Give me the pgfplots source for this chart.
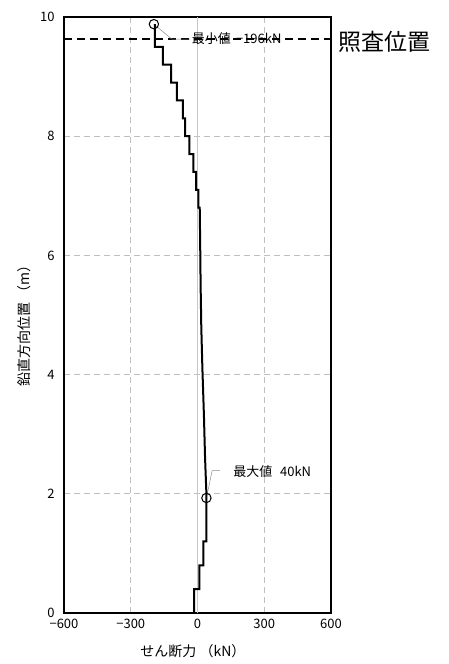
\documentclass[border=0pt]{standalone}
\usepackage{fontspec}
\setmainfont{Noto Sans CJK JP}
\usepackage{pgfplots}
\pgfplotsset{compat=1.18}
\begin{document}
\begin{tikzpicture}
\begin{axis}[
 scale only axis, width=267pt, height=596pt,
 xmin=-600,xmax=600,ymin=0,ymax=10,
 xtick={-600,-300,0,300,600}, xticklabels={−600,−300,0,300,600},
 ytick={0,2,4,6,8,10}, yticklabels={0,2,4,6,8,10},
 major tick length=0pt,
 grid=major, grid style={black!25, dash pattern=on 6pt off 4pt, line width=0.8pt},
 axis line style={line width=1.3pt},
 tick label style={font=\fontsize{13}{15}\selectfont},
 xticklabel style={yshift=-3pt},
 yticklabel style={xshift=-6pt},
 xlabel={せん断力 （kN）}, ylabel={鉛直方向位置 （m）},
 label style={font=\fontsize{14}{16}\selectfont},
 xlabel style={at={(axis description cs:0.483,-0.0638)}, anchor=center},
 ylabel style={at={(axis description cs:-0.149,0.487)}, anchor=center},
 clip=false,
]
\addplot[black!22, line width=1.2pt] coordinates {(0,0)(0,10)};
\addplot[black, line width=1.5pt, dash pattern=on 8pt off 5pt] coordinates {(-600,9.63)(600,9.63)};
\addplot[black!45, line width=0.5pt] coordinates {(-196,9.88)(-116,9.63)(-34,9.63)};
\addplot[black!45, line width=0.5pt] coordinates {(40,1.93)(66,2.39)(101,2.39)};
\addplot[black, line width=2pt] coordinates {
(-15,0)(-15,0.4)(8,0.4)(8,0.8)(26,0.8)(26,1.2)(40,1.2)(40,2.0)(34,2.6)(29,3.3)(22,4.1)(17,4.8)(14,5.5)(12,6.2)(10,6.8)(4,6.8)(4,7.1)(-6,7.1)(-6,7.4)(-18,7.4)(-18,7.7)(-36,7.7)(-36,8.0)(-56,8.0)(-56,8.3)(-66,8.3)(-66,8.6)(-93,8.6)(-93,8.9)(-119,8.9)(-119,9.2)(-156,9.2)(-156,9.5)(-192,9.5)(-192,9.88)};
\addplot[only marks, mark=o, mark size=4.7pt, mark options={line width=1pt, black}] coordinates {(-196,9.88)(40,1.93)};
\node[anchor=west, font=\fontsize{23}{26}\selectfont, inner sep=0pt, xshift=7pt, yshift=-3pt] at (axis cs:600,9.63) {照査位置};
\node[anchor=center, font=\fontsize{13}{15}\selectfont, inner sep=0pt] at (axis cs:176,9.63) {最小値\hspace{0.4em}−196kN};
\node[anchor=west, font=\fontsize{13}{15}\selectfont, inner sep=0pt] at (axis cs:160,2.38) {最大値\hspace{0.6em}40kN};
\path (rel axis cs:0,0) ++(-64pt,-51pt) rectangle ++(449pt,664pt);
\end{axis}
\end{tikzpicture}
\end{document}
